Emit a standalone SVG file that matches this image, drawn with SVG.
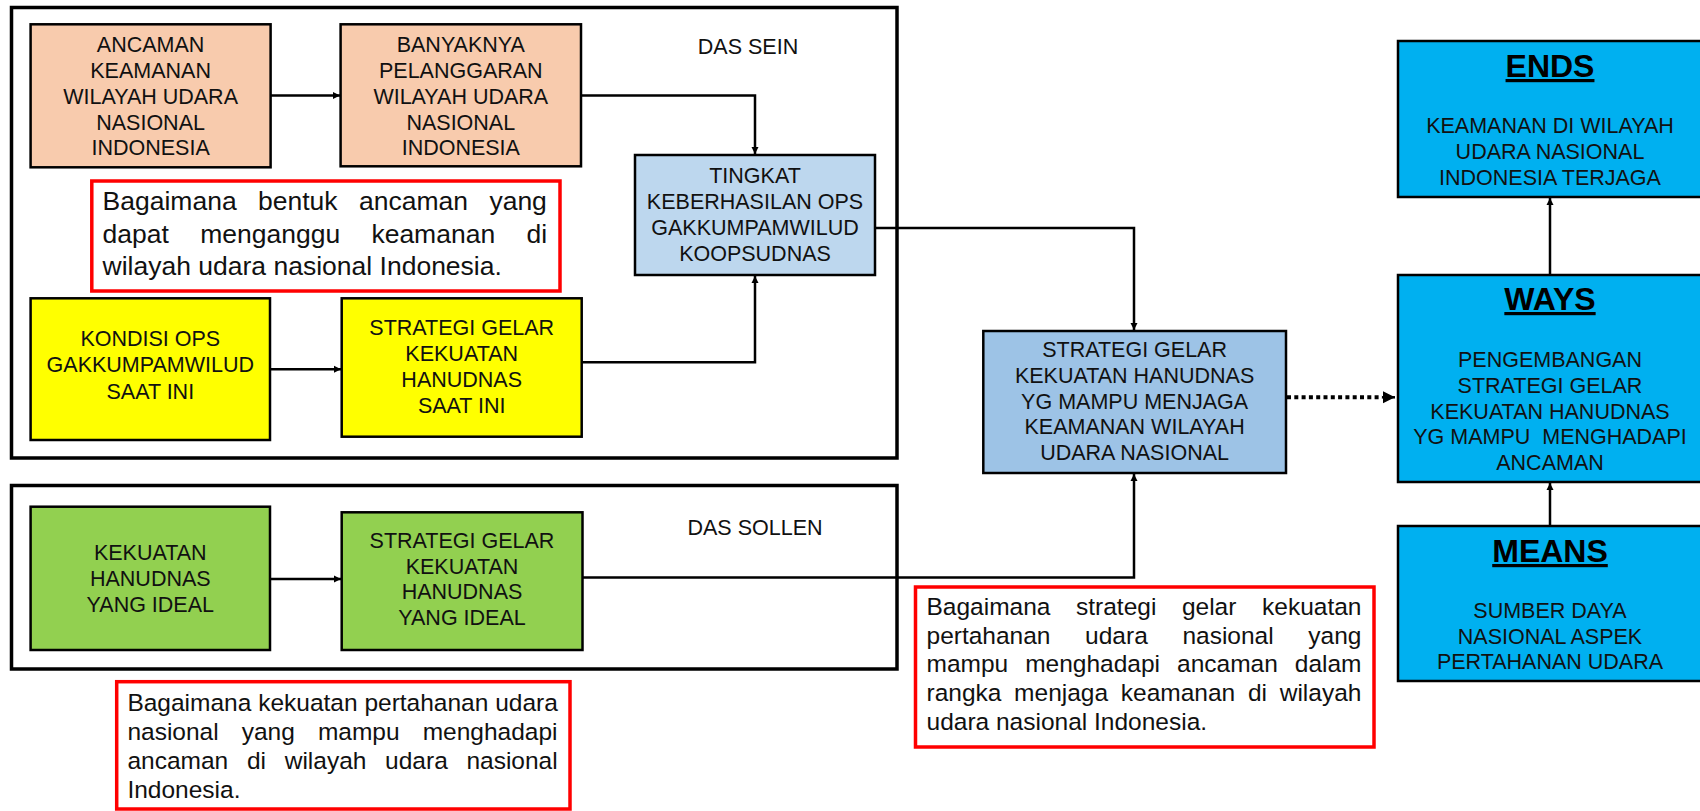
<svg xmlns="http://www.w3.org/2000/svg" width="1700" height="811" viewBox="0 0 1700 811">
<style>
.frame{fill:none;stroke:#000;stroke-width:3.5}
.box{stroke:#000;stroke-width:2.5}
.peach{fill:#F8CBAD}
.yellow{fill:#FFFF00}
.green{fill:#92D050}
.lblue{fill:#BDD7EE}
.mblue{fill:#9DC3E6}
.cyan{fill:#00B0F0}
.q{fill:#fff;stroke:#FF0000;stroke-width:3.5}
.t{font-family:"Liberation Sans",Arial,sans-serif;font-size:21.5px;fill:#111;text-anchor:middle}
.h{font-family:"Liberation Sans",Arial,sans-serif;font-size:32px;font-weight:bold;fill:#000;text-anchor:middle;text-decoration:underline}
.p1{font-family:"Liberation Sans",Arial,sans-serif;font-size:26.5px;fill:#111}
.p2{font-family:"Liberation Sans",Arial,sans-serif;font-size:24.5px;fill:#111}
.conn{fill:none;stroke:#000;stroke-width:2.5}
.dot{fill:none;stroke:#000;stroke-width:4;stroke-dasharray:4 3.3}
</style>
<defs>
<marker id="arr" markerUnits="userSpaceOnUse" markerWidth="8" markerHeight="8" refX="7" refY="4" orient="auto">
<path d="M0,0.5 L7,4 L0,7.5 z" fill="#000"/>
</marker>
<marker id="arrBig" markerUnits="userSpaceOnUse" markerWidth="13" markerHeight="13" refX="12" refY="6.5" orient="auto">
<path d="M0,0.5 L12,6.5 L0,12.5 z" fill="#000"/>
</marker>
</defs>
<rect width="1700" height="811" fill="#fff"/>

<g id="das-sein">
<rect class="frame" x="11.5" y="7.5" width="885.5" height="450.5"/>
<text class="t" x="748" y="54">DAS SEIN</text>
</g>
<g id="das-sollen">
<rect class="frame" x="11.5" y="485.5" width="885.5" height="183.5"/>
<text class="t" x="755" y="535">DAS SOLLEN</text>
</g>

<g id="connectors">
<path class="conn" d="M270.6,95.5 H340" marker-end="url(#arr)"/>
<path class="conn" d="M581,95.5 H755 V154" marker-end="url(#arr)"/>
<path class="conn" d="M270,369.3 H341" marker-end="url(#arr)"/>
<path class="conn" d="M581.7,362.3 H755 V276" marker-end="url(#arr)"/>
<path class="conn" d="M875,228 H1134 V330" marker-end="url(#arr)"/>
<path class="conn" d="M270,579 H341" marker-end="url(#arr)"/>
<path class="conn" d="M582.5,577.5 H1134 V474" marker-end="url(#arr)"/>
<path class="dot" d="M1287,397.3 H1382"/>
<path class="conn" d="M1382,397.3 H1395" marker-end="url(#arrBig)" stroke-width="1"/>
<path class="conn" d="M1550,526 V483" marker-end="url(#arr)"/>
<path class="conn" d="M1550,275 V198" marker-end="url(#arr)"/>
</g>

<g id="ancaman">
<rect class="box peach" x="30.6" y="24.3" width="240" height="143"/>
<text class="t" x="150.6" y="52">ANCAMAN</text>
<text class="t" x="150.6" y="78">KEAMANAN</text>
<text class="t" x="150.6" y="103.5">WILAYAH UDARA</text>
<text class="t" x="150.6" y="129.5">NASIONAL</text>
<text class="t" x="150.6" y="155">INDONESIA</text>
</g>
<g id="banyaknya">
<rect class="box peach" x="340.6" y="24.3" width="240.4" height="142"/>
<text class="t" x="460.8" y="52">BANYAKNYA</text>
<text class="t" x="460.8" y="78">PELANGGARAN</text>
<text class="t" x="460.8" y="103.5">WILAYAH UDARA</text>
<text class="t" x="460.8" y="129.5">NASIONAL</text>
<text class="t" x="460.8" y="155">INDONESIA</text>
</g>
<g id="tingkat">
<rect class="box lblue" x="635" y="155" width="240" height="120"/>
<text class="t" x="755" y="183">TINGKAT</text>
<text class="t" x="755" y="209">KEBERHASILAN OPS</text>
<text class="t" x="755" y="235">GAKKUMPAMWILUD</text>
<text class="t" x="755" y="261">KOOPSUDNAS</text>
</g>
<g id="q1">
<rect class="q" x="91.8" y="181" width="468.2" height="110"/>
<text class="p1" y="210"><tspan x="102.6">Bagaimana</tspan><tspan x="258">bentuk</tspan><tspan x="359">ancaman</tspan><tspan x="489.4">yang</tspan></text>
<text class="p1" y="243"><tspan x="102.6">dapat</tspan><tspan x="200.2">menganggu</tspan><tspan x="371.4">keamanan</tspan><tspan x="526.4">di</tspan></text>
<text class="p1" x="102.6" y="275">wilayah udara nasional Indonesia.</text>
</g>
<g id="kondisi">
<rect class="box yellow" x="30.6" y="298.3" width="239.4" height="141.7"/>
<text class="t" x="150.3" y="346">KONDISI OPS</text>
<text class="t" x="150.3" y="372.3">GAKKUMPAMWILUD</text>
<text class="t" x="150.3" y="398.6">SAAT INI</text>
</g>
<g id="strategi-saat-ini">
<rect class="box yellow" x="341.7" y="298.3" width="240" height="138.4"/>
<text class="t" x="461.7" y="334.5">STRATEGI GELAR</text>
<text class="t" x="461.7" y="360.8">KEKUATAN</text>
<text class="t" x="461.7" y="386.7">HANUDNAS</text>
<text class="t" x="461.7" y="412.5">SAAT INI</text>
</g>
<g id="kekuatan-ideal">
<rect class="box green" x="30.6" y="506.7" width="239.4" height="143.3"/>
<text class="t" x="150.3" y="560">KEKUATAN</text>
<text class="t" x="150.3" y="586">HANUDNAS</text>
<text class="t" x="150.3" y="611.7">YANG IDEAL</text>
</g>
<g id="strategi-ideal">
<rect class="box green" x="341.7" y="512.3" width="240.8" height="137.7"/>
<text class="t" x="462" y="547.7">STRATEGI GELAR</text>
<text class="t" x="462" y="573.5">KEKUATAN</text>
<text class="t" x="462" y="599.3">HANUDNAS</text>
<text class="t" x="462" y="625">YANG IDEAL</text>
</g>
<g id="q2">
<rect class="q" x="116.7" y="681.7" width="453.3" height="127.3"/>
<text class="p2" x="127.4" y="710.7">Bagaimana kekuatan pertahanan udara</text>
<text class="p2" y="740"><tspan x="127.4">nasional</tspan><tspan x="241.7">yang</tspan><tspan x="317.9">mampu</tspan><tspan x="422.7">menghadapi</tspan></text>
<text class="p2" y="769"><tspan x="127.4">ancaman</tspan><tspan x="246.9">di</tspan><tspan x="284.7">wilayah</tspan><tspan x="385.1">udara</tspan><tspan x="466.4">nasional</tspan></text>
<text class="p2" x="127.4" y="798.3">Indonesia.</text>
</g>
<g id="strategi-mampu">
<rect class="box mblue" x="983.3" y="331" width="302.7" height="142"/>
<text class="t" x="1134.6" y="357">STRATEGI GELAR</text>
<text class="t" x="1134.6" y="383">KEKUATAN HANUDNAS</text>
<text class="t" x="1134.6" y="408.5">YG MAMPU MENJAGA</text>
<text class="t" x="1134.6" y="434.3">KEAMANAN WILAYAH</text>
<text class="t" x="1134.6" y="460">UDARA NASIONAL</text>
</g>
<g id="q3">
<rect class="q" x="915.5" y="587" width="458.5" height="160"/>
<text class="p2" y="615"><tspan x="926.5">Bagaimana</tspan><tspan x="1076">strategi</tspan><tspan x="1181.9">gelar</tspan><tspan x="1262">kekuatan</tspan></text>
<text class="p2" y="643.5"><tspan x="926.5">pertahanan</tspan><tspan x="1085.1">udara</tspan><tspan x="1182.4">nasional</tspan><tspan x="1308.3">yang</tspan></text>
<text class="p2" y="672.3"><tspan x="926.5">mampu</tspan><tspan x="1025.2">menghadapi</tspan><tspan x="1177">ancaman</tspan><tspan x="1294.8">dalam</tspan></text>
<text class="p2" y="701"><tspan x="926.5">rangka</tspan><tspan x="1014.1">menjaga</tspan><tspan x="1120.8">keamanan</tspan><tspan x="1247.9">di</tspan><tspan x="1279.7">wilayah</tspan></text>
<text class="p2" x="926.5" y="729.5">udara nasional Indonesia.</text>
</g>
<g id="ends">
<rect class="box cyan" x="1398" y="41" width="306" height="156"/>
<text class="h" x="1550" y="77">ENDS</text>
<text class="t" x="1550" y="133">KEAMANAN DI WILAYAH</text>
<text class="t" x="1550" y="159">UDARA NASIONAL</text>
<text class="t" x="1550" y="185">INDONESIA TERJAGA</text>
</g>
<g id="ways">
<rect class="box cyan" x="1398" y="275" width="306" height="207"/>
<text class="h" x="1550" y="310">WAYS</text>
<text class="t" x="1550" y="367">PENGEMBANGAN</text>
<text class="t" x="1550" y="393">STRATEGI GELAR</text>
<text class="t" x="1550" y="418.5">KEKUATAN HANUDNAS</text>
<text class="t" x="1550" y="444.3" xml:space="preserve" style="white-space:pre">YG MAMPU  MENGHADAPI</text>
<text class="t" x="1550" y="470">ANCAMAN</text>
</g>
<g id="means">
<rect class="box cyan" x="1398" y="526" width="306" height="155"/>
<text class="h" x="1550" y="562">MEANS</text>
<text class="t" x="1550" y="618">SUMBER DAYA</text>
<text class="t" x="1550" y="643.5">NASIONAL ASPEK</text>
<text class="t" x="1550" y="669">PERTAHANAN UDARA</text>
</g>
</svg>
